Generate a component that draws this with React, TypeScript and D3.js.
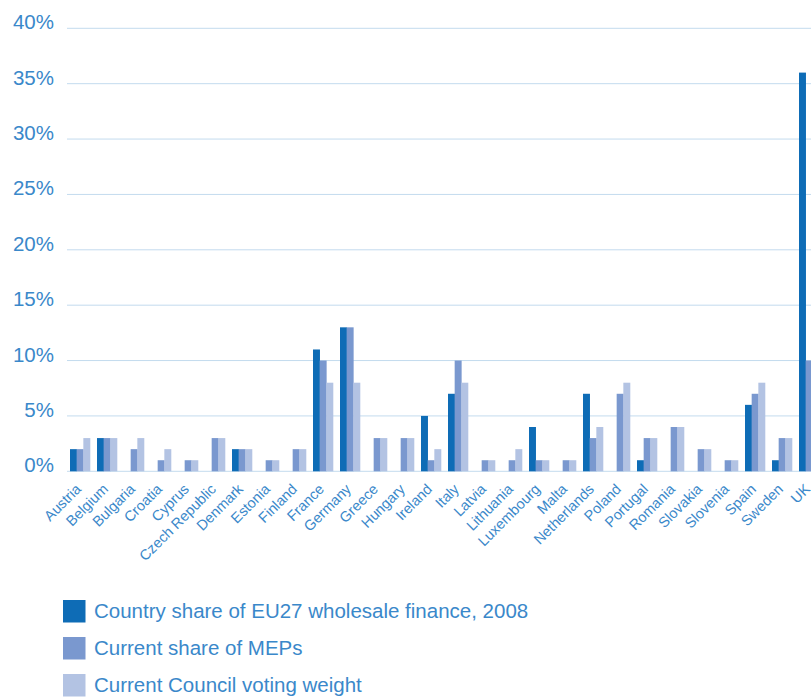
import React from "react";
import * as d3 from "d3";

const countries = [
  "Austria", "Belgium", "Bulgaria", "Croatia", "Cyprus", "Czech Republic", "Denmark",
  "Estonia", "Finland", "France", "Germany", "Greece", "Hungary", "Ireland", "Italy",
  "Latvia", "Lithuania", "Luxembourg", "Malta", "Netherlands", "Poland", "Portugal",
  "Romania", "Slovakia", "Slovenia", "Spain", "Sweden", "UK",
];
const wholesaleFinance = [2, 3, 0, 0, 0, 0, 2, 0, 0, 11, 13, 0, 0, 5, 7, 0, 0, 4, 0, 7, 0, 1, 0, 0, 0, 6, 1, 36];
const sharesMEPs = [2, 3, 2, 1, 1, 3, 2, 1, 2, 10, 13, 3, 3, 1, 10, 1, 1, 1, 1, 3, 7, 3, 4, 2, 1, 7, 3, 10];
const councilWeight = [3, 3, 3, 2, 1, 3, 2, 1, 2, 8, 8, 3, 3, 2, 8, 1, 2, 1, 1, 4, 8, 3, 4, 2, 1, 8, 3, 8];
const seriesNames = [
  "Country share of EU27 wholesale finance, 2008",
  "Current share of MEPs",
  "Current Council voting weight",
];
const yTicks = [0, 5, 10, 15, 20, 25, 30, 35, 40];

const colors = ["#0e6cb6", "#7a98cf", "#b3c3e3"];
const textColor = "#3a88ca";
const gridColor = "#c3dbee";
const font = "'Liberation Sans', Arial, Helvetica, sans-serif";

export default function App() {
  const W = 811;
  const H = 699;
  const series = [wholesaleFinance, sharesMEPs, councilWeight];

  const x = d3
    .scaleBand<string>()
    .domain(countries)
    .range([67, 822])
    .paddingInner(7 / 27)
    .paddingOuter(3 / 27);
  const xi = d3
    .scaleBand<number>()
    .domain([0, 1, 2])
    .range([0, x.bandwidth()]);
  const y = d3.scaleLinear().domain([0, 40]).range([471.3, 28.3]);

  return (
    <svg
      width={W}
      height={H}
      style={{ position: "fixed", left: 0, top: 0, background: "#fff" }}
      fontFamily={font}
    >
      {yTicks.map((t) => (
        <g key={t}>
          <line x1={67} x2={W} y1={y(t)} y2={y(t)} stroke={gridColor} strokeWidth={1} />
          <text x={54} y={y(t) + 1} textAnchor="end" fontSize={20.5} fill={textColor}>
            {t}%
          </text>
        </g>
      ))}
      {countries.map((c, i) => (
        <g key={c} transform={`translate(${x(c)},0)`}>
          {series.map((s, k) => (
            <rect
              key={k}
              x={xi(k)}
              width={xi.bandwidth() + 0.3}
              y={y(s[i])}
              height={y(0) - y(s[i])}
              fill={colors[k]}
            />
          ))}
          <text
            transform={`translate(${x.bandwidth() / 2 + 2},${490}) rotate(-45)`}
            textAnchor="end"
            fontSize={14.5}
            fill={textColor}
          >
            {c}
          </text>
        </g>
      ))}
      {seriesNames.map((n, k) => (
        <g key={n} transform={`translate(63,${600 + k * 37})`}>
          <rect width={22.5} height={22.5} fill={colors[k]} />
          <text x={31} y={18} fontSize={20.5} fill={textColor}>
            {n}
          </text>
        </g>
      ))}
    </svg>
  );
}
